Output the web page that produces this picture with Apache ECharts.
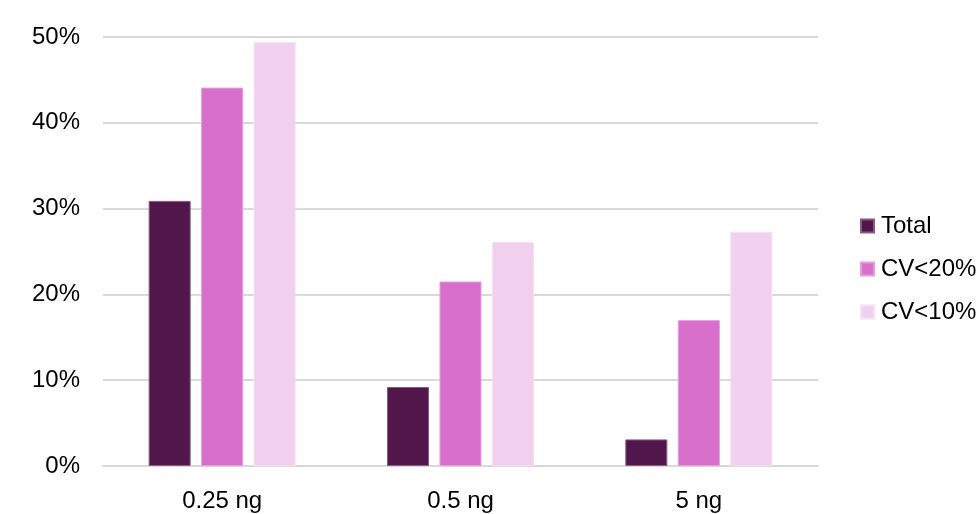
<!DOCTYPE html>
<html>
<head>
<meta charset="utf-8">
<script src="https://cdn.jsdelivr.net/npm/echarts@6/dist/echarts.min.js"></script>
<style>html,body{margin:0;padding:0;background:#fff}#c{width:979px;height:514px}</style>
</head>
<body>
<div id="c"></div>
<script>
const categories = ['0.25 ng', '0.5 ng', '5 ng'];
const seriesNames = ['Total', 'CV<20%', 'CV<10%'];
const totalValues = [30.9, 9.2, 3.1];
const cv20Values = [44.1, 21.5, 17.0];
const cv10Values = [49.4, 26.1, 27.3];
const yTicks = [0, 10, 20, 30, 40, 50];

const colors = ['#52174A', '#D76FCB', '#F1CFEE'];
const borders = ['#8a5a84', '#e59bdc', '#f6e0f3'];
const values = [totalValues, cv20Values, cv10Values];

const chart = echarts.init(document.getElementById('c'));
chart.setOption({
  animation: false,
  textStyle: {fontFamily: 'Liberation Sans, Arial, sans-serif'},
  grid: {left: 103, right: 161, top: 37, bottom: 48},
  legend: {
    orient: 'vertical', left: 860, top: 214, padding: 0,
    itemWidth: 13, itemHeight: 13, itemGap: 19,
    icon: 'rect',
    textStyle: {fontSize: 24, color: '#000', padding: [0,0,0,2]},
    data: seriesNames
  },
  xAxis: {
    type: 'category', data: categories,
    axisLine: {lineStyle: {color: '#d9d9d9', width: 2}},
    axisTick: {show: false},
    axisLabel: {fontSize: 24, color: '#000', margin: 23}
  },
  yAxis: {
    type: 'value', min: yTicks[0], max: yTicks[yTicks.length-1], interval: 10,
    axisLine: {show: false}, axisTick: {show: false},
    axisLabel: {fontSize: 24, color: '#000', margin: 23, formatter: '{value}%'},
    splitLine: {lineStyle: {color: '#d9d9d9', width: 2}}
  },
  series: seriesNames.map((n, i) => ({
    name: n, type: 'bar', data: values[i],
    barWidth: 42, barGap: '25%',
    itemStyle: {color: colors[i], borderColor: borders[i], borderWidth: 1}
  }))
});
</script>
</body>
</html>
